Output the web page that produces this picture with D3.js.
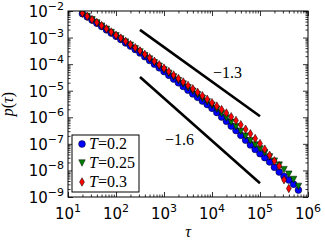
<!DOCTYPE html>
<html>
<head>
<meta charset="utf-8">
<script src="https://cdn.jsdelivr.net/npm/d3@7"></script>
<style>
	body { margin: 0; background: #fff; }
	.tickLabel { font-family: "DejaVu Sans", sans-serif; font-size: 15px; fill: #000; }
	.mathText { font-family: "Liberation Serif", serif; font-size: 16px; fill: #000; }
</style>
</head>
<body>
<svg class="chart"></svg>
<script>
// exponents (log10)
var logTau = [1.3, 1.4, 1.5, 1.6, 1.7, 1.8, 1.9, 2.0, 2.1, 2.2, 2.3, 2.4, 2.5, 2.6, 2.7, 2.8, 2.9,
	3.0, 3.1, 3.2, 3.3, 3.4, 3.5, 3.6, 3.7, 3.8, 3.9, 4.0, 4.1, 4.2, 4.3, 4.4, 4.5, 4.6, 4.7, 4.8, 4.9,
	5.0, 5.1, 5.2, 5.3, 5.4, 5.5, 5.6, 5.7, 5.8];

var logP02 = [-2.10, -2.22, -2.34, -2.46, -2.58, -2.71, -2.83, -2.95, -3.07, -3.20, -3.32, -3.45, -3.58,
	-3.72, -3.86, -4.00, -4.14, -4.28, -4.42, -4.56, -4.70, -4.84, -4.98, -5.12, -5.25, -5.39, -5.52,
	-5.66, -5.82, -5.99, -6.15, -6.33, -6.50, -6.68, -6.86, -7.04, -7.21, -7.37, -7.52, -7.68, -7.88,
	-8.06, -8.22, -8.36, -8.52, -8.74];

var logP025 = [-2.09, -2.21, -2.33, -2.45, -2.57, -2.69, -2.81, -2.93, -3.05, -3.17, -3.29, -3.42, -3.54,
	-3.68, -3.81, -3.95, -4.08, -4.22, -4.35, -4.48, -4.62, -4.75, -4.89, -5.02, -5.15, -5.29, -5.42,
	-5.55, -5.70, -5.86, -6.03, -6.19, -6.36, -6.53, -6.71, -6.88, -7.04, -7.19, -7.34, -7.49, -7.65,
	-7.80, -7.97, -8.14, -8.34, -8.60];

var logP03 = [-2.08, -2.20, -2.32, -2.43, -2.55, -2.67, -2.79, -2.91, -3.02, -3.14, -3.26, -3.38, -3.50,
	-3.63, -3.76, -3.89, -4.02, -4.15, -4.28, -4.41, -4.54, -4.67, -4.80, -4.93, -5.06, -5.19, -5.32,
	-5.45, -5.58, -5.71, -5.84, -5.98, -6.12, -6.28, -6.45, -6.62, -6.80, -6.99, -7.20, -7.43, -7.64,
	-7.83, -8.35, -8.68];

var seriesNames = ["0.2", "0.25", "0.3"];

// guide power laws: endpoints
var guideTau = [316, 1e5];
var guideP13 = [1.95e-3, 1.1e-6];
var guideP16 = [3.3e-5, 3.3e-9];
var guideLabels = ["\u22121.3", "\u22121.6"];
var guideLabelTau = [1.05e4, 1.05e3];
var guideLabelP = [3.0e-5, 9.0e-8];

var xMajor = [1e1, 1e2, 1e3, 1e4, 1e5, 1e6];
var xExp = ["1", "2", "3", "4", "5", "6"];
var yMajor = [1e-9, 1e-8, 1e-7, 1e-6, 1e-5, 1e-4, 1e-3, 1e-2];
var yExp = ["\u22129", "\u22128", "\u22127", "\u22126", "\u22125", "\u22124", "\u22123", "\u22122"];


var svgWidth = 325, svgHeight = 243;
var marginLeft = 68, marginTop = 11;
var chartWidth = 240, chartHeight = 186;

function minorTicks(lo, hi) {
	var out = [];
	for (var e = lo; e < hi; e++) {
		for (var k = 2; k <= 9; k++) out.push(k * Math.pow(10, e));
	}
	return out;
}

var svg = d3.select('.chart').attr("width", svgWidth).attr("height", svgHeight);
var chart = svg.append("g").attr("transform", "translate(" + marginLeft + "," + marginTop + ")");

var x = d3.scaleLog().domain([1e1, 1e6]).range([0, chartWidth]);
var y = d3.scaleLog().domain([1e-9, 1e-2]).range([chartHeight, 0]);

svg.append("defs").append("clipPath").attr("id", "plotClip")
	.append("rect").attr("width", chartWidth).attr("height", chartHeight);

function tickAxis(axisFn, values, size, transform) {
	var g = chart.append("g").attr("transform", transform)
		.call(axisFn.tickValues(values).tickSizeInner(-size).tickSizeOuter(0).tickFormat(""));
	g.select(".domain").remove();
	g.selectAll("line").attr("stroke", "#000").attr("stroke-width", 0.8);
	return g;
}

// ticks on all four sides, pointing inward
tickAxis(d3.axisBottom(x), xMajor, 5, "translate(0," + chartHeight + ")");
tickAxis(d3.axisBottom(x), minorTicks(1, 6), 2.5, "translate(0," + chartHeight + ")");
tickAxis(d3.axisTop(x), xMajor, 5, "translate(0,0)");
tickAxis(d3.axisTop(x), minorTicks(1, 6), 2.5, "translate(0,0)");
tickAxis(d3.axisLeft(y), yMajor, 5, "translate(0,0)");
tickAxis(d3.axisLeft(y), minorTicks(-9, -2), 2.5, "translate(0,0)");
tickAxis(d3.axisRight(y), yMajor, 5, "translate(" + chartWidth + ",0)");
tickAxis(d3.axisRight(y), minorTicks(-9, -2), 2.5, "translate(" + chartWidth + ",0)");

// tick labels: 10 with superscript
var xl = chart.selectAll(".xLab").data(xMajor).enter().append("text")
	.attr("class", "tickLabel")
	.attr("x", function(d) { return x(d); })
	.attr("y", chartHeight + 22)
	.attr("text-anchor", "middle");
xl.append("tspan").text("10");
xl.append("tspan").attr("dy", -7).attr("font-size", "11px").text(function(d, i) { return xExp[i]; });

var yl = chart.selectAll(".yLab").data(yMajor).enter().append("text")
	.attr("class", "tickLabel")
	.attr("x", -4)
	.attr("y", function(d) { return y(d) + 6; })
	.attr("text-anchor", "end");
yl.append("tspan").text("10");
yl.append("tspan").attr("dy", -7).attr("font-size", "11px").text(function(d, i) { return yExp[i]; });

// axis titles
chart.append("text").attr("class", "mathText")
	.attr("x", chartWidth / 2).attr("y", chartHeight + 40)
	.attr("text-anchor", "middle").attr("font-style", "italic").text("\u03c4");

var yt = chart.append("text").attr("class", "mathText")
	.attr("transform", "translate(" + (-55) + "," + (chartHeight / 2) + ") rotate(-90)")
	.attr("text-anchor", "middle");
yt.append("tspan").attr("font-style", "italic").text("p");
yt.append("tspan").text("(");
yt.append("tspan").attr("font-style", "italic").text("\u03c4");
yt.append("tspan").text(")");

// guide lines
var guideLine = d3.line().x(function(d) { return x(d[0]); }).y(function(d) { return y(d[1]); });
[guideP13, guideP16].forEach(function(p, i) {
	chart.append("path")
		.attr("d", guideLine(guideTau.map(function(t, j) { return [t, p[j]]; })))
		.attr("stroke", "#000").attr("stroke-width", 2.6).attr("fill", "none");
	chart.append("text").attr("class", "mathText")
		.attr("x", x(guideLabelTau[i])).attr("y", y(guideLabelP[i]))
		.text(guideLabels[i]);
});

// markers
var triDown = {
	draw: function(ctx, size) {
		var r = Math.sqrt(size) / 2;
		ctx.moveTo(0, r); ctx.lineTo(-r, -r); ctx.lineTo(r, -r); ctx.closePath();
	}
};
var styles = [
	{ fill: "#0000ff", sym: d3.symbol().type(d3.symbolCircle).size(36) },
	{ fill: "#007f00", sym: d3.symbol().type(triDown).size(42) },
	{ fill: "#ff0000", sym: d3.symbol().type(d3.symbolDiamond).size(21) }
];
var seriesLogP = [logP02, logP025, logP03];

var plot = chart.append("g").attr("clip-path", "url(#plotClip)");
seriesLogP.forEach(function(vals, s) {
	var pts = vals.map(function(v, i) { return [Math.pow(10, logTau[i]), Math.pow(10, v)]; });
	plot.selectAll(".s" + s).data(pts).enter().append("path")
		.attr("d", styles[s].sym())
		.attr("transform", function(d) { return "translate(" + x(d[0]) + "," + y(d[1]) + ")"; })
		.attr("fill", styles[s].fill)
		.attr("stroke", "#000").attr("stroke-width", 0.5);
});

// frame
chart.append("rect").attr("width", chartWidth).attr("height", chartHeight)
	.attr("fill", "none").attr("stroke", "#000").attr("stroke-width", 1);

// legend
var legend = chart.append("g").attr("transform", "translate(4,124)");
legend.append("rect").attr("width", 67).attr("height", 57)
	.attr("fill", "#fff").attr("stroke", "#000").attr("stroke-width", 1);
seriesNames.forEach(function(name, i) {
	var row = legend.append("g").attr("transform", "translate(10," + (9 + i * 19) + ")");
	row.append("path").attr("d", styles[i].sym()).attr("fill", styles[i].fill)
		.attr("stroke", "#000").attr("stroke-width", 0.5);
	var t = row.append("text").attr("class", "mathText").attr("x", 7).attr("y", 5)
		.attr("font-size", "14px");
	t.append("tspan").attr("font-style", "italic").text("T");
	t.append("tspan").text("=" + name);
});
</script>
</body>
</html>
